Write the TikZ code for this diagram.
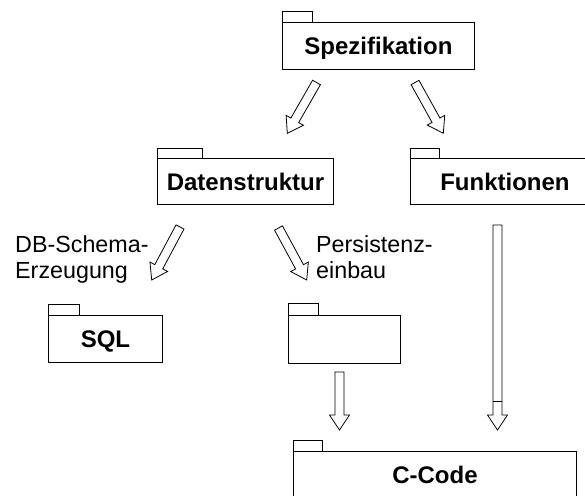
\documentclass[tikz,border=0pt]{standalone}
\usepackage{fontspec}
\setmainfont{Liberation Sans}
\usetikzlibrary{calc}
\tikzset{
  pkg/.style={draw, line width=0.9pt, inner sep=0pt, anchor=north west,
    font=\fontsize{24}{28}\selectfont\bfseries, text height=17.2pt, text depth=0pt},
  tab/.style={draw, line width=0.9pt},
  lbl/.style={font=\fontsize{23.3}{26}\selectfont, anchor=base west, inner sep=0pt},
  harrow/.style={draw, line width=0.8pt, fill=white, line join=miter},
}
\newcommand\blockarrow[2]{%
  \coordinate (ba-c) at ($(#2)!15pt!(#1)$);
  \draw[harrow] ($(#1)!4.5pt!90:(#2)$) -- ($(ba-c)!4.5pt!90:(#2)$) -- ($(ba-c)!10pt!90:(#2)$)
    -- (#2) -- ($(ba-c)!10pt!-90:(#2)$) -- ($(ba-c)!4.5pt!-90:(#2)$) -- ($(#1)!4.5pt!-90:(#2)$) -- cycle;
}
\begin{document}
\begin{tikzpicture}[x=1pt, y=-1pt]
\path[use as bounding box] (0,0) rectangle (585,495);
\clip (0,0) rectangle (585,495);
% packages
\node[pkg, minimum width=192pt, minimum height=47pt] (spez) at (282,22) {Spezifikation};
\draw[tab] (spez.north west) rectangle ++(30,-11);
\node[pkg, minimum width=176pt, minimum height=46pt] (dat) at (157,158) {Datenstruktur};
\draw[tab] (dat.north west) rectangle ++(45,-10);
\node[pkg, minimum width=189pt, minimum height=46pt] (fun) at (410,158) {Funktionen};
\draw[tab] (fun.north west) rectangle ++(29,-10);
\node[pkg, minimum width=114pt, minimum height=47pt] (sql) at (48,315) {SQL};
\draw[tab] (sql.north west) rectangle ++(31,-11);
\node[pkg, minimum width=112pt, minimum height=48pt] (emp) at (288,315) {};
\draw[tab] (emp.north west) rectangle ++(30,-12);
\node[pkg, minimum width=283pt, minimum height=47pt] (cc) at (293,451) {C-Code};
\draw[tab] (cc.north west) rectangle ++(29,-11);
% labels
\node[lbl] (db1) at (15,252) {DB-Schema-};
\node[lbl] (db2) at (15,278) {Erzeugung};
\node[lbl] (pe1) at (316,252) {Persistenz-};
\node[lbl] (pe2) at (316,278) {einbau};
% arrow end points
\coordinate (a1t) at (316.5,82.5);  \coordinate (a1h) at (287.3,133.3);
\coordinate (a2t) at (415,82.5);    \coordinate (a2h) at (443.3,133.3);
\coordinate (a3t) at (180,227);     \coordinate (a3h) at (151.7,280);
\coordinate (a4t) at (278.5,228);   \coordinate (a4h) at (306.7,280);
\coordinate (a5t) at (339.5,372);   \coordinate (a5h) at (339.5,430);
\coordinate (a6t) at (497.5,225);   \coordinate (a6h) at (497.5,430);
\blockarrow{a1t}{a1h}
\blockarrow{a2t}{a2h}
\blockarrow{a3t}{a3h}
\blockarrow{a4t}{a4h}
\blockarrow{a5t}{a5h}
\blockarrow{a6t}{a6h}
\draw[line width=0.8pt] ($(a6t)+(-4.5,176)$) -- ($(a6t)+(4.5,176)$);
\end{tikzpicture}
\end{document}
